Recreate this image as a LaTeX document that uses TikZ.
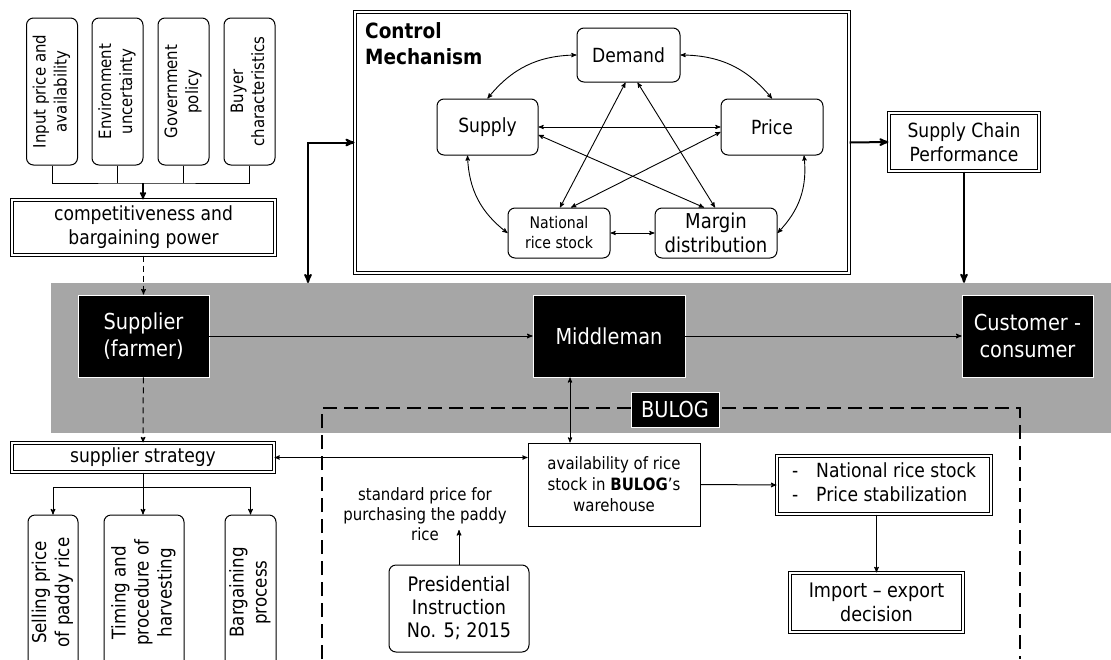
\documentclass[tikz,border=0pt]{standalone}
\usepackage{fontspec}
\setmainfont{DejaVu Sans}[FakeStretch=0.88]
\usepackage{graphicx}
\usepackage{tikz}
\usetikzlibrary{arrows}
\definecolor{bandgray}{RGB}{166,166,166}
\newcommand{\fsz}[2]{\fontsize{#1}{#2}\selectfont}
\newcommand{\vlabel}[1]{\rotatebox{90}{\begin{tabular}{@{}c@{}}#1\end{tabular}}}
\tikzset
{
    softbox/.style  = {rectangle, rounded corners=7pt, draw=black, line width=1pt, align=center, inner sep=2pt},
    plainbox/.style = {rectangle, draw=black, line width=1pt, align=center, inner sep=2pt},
    dblbox/.style   = {rectangle, draw=black, double=white, double distance=1.3pt, line width=1.1pt, align=center, inner sep=2pt},
    blackbox/.style = {rectangle, fill=black, draw=white, line width=0.9pt, text=white, align=center, font=\fsz{22}{27}},
    link/.style     = {->, line width=1pt},
    both/.style     = {<->, line width=0.9pt},
    heavy/.style    = {line width=2pt}
}

\begin{document}
\begin{tikzpicture}[x=1pt, y=-1pt, >=stealth', font=\fsz{19.5}{24}]
    \useasboundingbox (0,0) rectangle (1111,659);
    \clip (0,0) rectangle (1111,659);

    \node [fill=bandgray, minimum width=1060pt, minimum height=150pt, inner sep=0pt] (band) at (581,358) {};

    \node [softbox, minimum width=51pt, minimum height=147pt, font=\fsz{17}{21}] (inprice) at (52,91.5) {\vlabel{Input price and\\availability}};
    \node [softbox, minimum width=51pt, minimum height=147pt, font=\fsz{17}{21}] (envunc) at (117.5,91.5) {\vlabel{Environment\\uncertainty}};
    \node [softbox, minimum width=51pt, minimum height=147pt, font=\fsz{17}{21}] (govpol) at (183.5,91.5) {\vlabel{Government\\policy}};
    \node [softbox, minimum width=51pt, minimum height=147pt, font=\fsz{17}{21}] (buyer) at (249.5,91.5) {\vlabel{Buyer\\characteristics}};
    \node [dblbox, minimum width=263pt, minimum height=55pt] (compet) at (143.5,227.5) {competitiveness and\\bargaining power};

    \coordinate (merge) at (143,183);
    \draw [line width=1pt] (inprice.south) |- (merge) -| (buyer.south);
    \draw [line width=1pt] (envunc.south) -- (envunc.south |- merge);
    \draw [line width=1pt] (govpol.south) -- (govpol.south |- merge);
    \draw [link, line width=1.5pt] (merge) -- (merge |- compet.north);

    \node [blackbox, minimum width=131pt, minimum height=82pt] (farmer) at (143.5,336) {Supplier\\(farmer)};
    \node [blackbox, minimum width=152pt, minimum height=82pt] (middle) at (609,336) {Middleman};
    \node [blackbox, minimum width=131pt, minimum height=82pt] (customer) at (1027.5,336) {Customer -\\consumer};
    \draw [link] (farmer) -- (middle);
    \draw [link] (middle) -- (customer);
    \draw [link, dash pattern=on 6pt off 4pt] (compet) -- (farmer);

    \node [draw=black, double=white, double distance=1.5pt, line width=1pt, minimum width=494pt, minimum height=261pt] (control) at (602,142.5) {};
    \node [anchor=north west, align=left, inner sep=0pt, font=\bfseries\fsz{21}{26}] (ctitle) at (365,22) {Control\\Mechanism};
    \node [softbox, minimum width=103pt, minimum height=54pt] (demand) at (628.5,55) {Demand};
    \node [softbox, minimum width=101pt, minimum height=56pt] (supply) at (487.5,127) {Supply};
    \node [softbox, minimum width=102pt, minimum height=56pt] (price) at (772,127) {Price};
    \node [softbox, minimum width=102pt, minimum height=50pt, font=\fsz{16}{20}] (stock) at (559,233) {National\\rice stock};
    \node [softbox, minimum width=122pt, minimum height=50pt, font=\fsz{20.5}{24}] (margin) at (716,233) {Margin\\distribution};

    \draw [both] (supply.north) to[bend left=25] (demand.west);
    \draw [both] (demand.east) to[bend left=25] (price.north);
    \draw [both] (supply.east) -- (price.west);
    \draw [both] ([xshift=-20pt]supply.south) to[bend right=25] (stock.west);
    \draw [both] ([xshift=32pt]price.south) to[bend left=25] (margin.east);
    \draw [both] (stock.east) -- (margin.west);
    \draw [both] ([xshift=-3pt]demand.south) -- ([xshift=1pt]stock.north);
    \draw [both] ([xshift=9pt]demand.south) -- ([xshift=-1pt]margin.north);
    \draw [both] ([yshift=-8pt]supply.east) -- ([xshift=-12pt]margin.north);
    \draw [both] ([yshift=-5pt]price.west) -- ([xshift=12pt]stock.north);

    \node [dblbox, minimum width=150pt, minimum height=58pt] (scp) at (964,142) {Supply Chain\\Performance};
    \coordinate (ctrlfoot) at (308,283);
    \draw [<->, heavy] (ctrlfoot) |- (control.west);
    \draw [->, heavy] (control.east) -- (scp.west);
    \draw [->, heavy] (scp.south) -- (scp.south |- band.north);

    \draw [line width=2.2pt, dash pattern=on 14pt off 7pt] (322,659) -- (322,408) -- (1020,408) -- (1020,659);
    \node [blackbox, minimum width=88pt, minimum height=35pt, inner sep=0pt] (bulog) at (675,409.5) {BULOG};

    \node [plainbox, minimum width=172pt, minimum height=83pt, font=\fsz{17}{21}] (avail) at (614,484.5) {availability of rice\\stock in \textbf{BULOG}’s\\warehouse};
    \coordinate (midfoot) at ([xshift=-39pt]middle.south);
    \draw [both] (midfoot) -- (midfoot |- avail.north);

    \node [dblbox, minimum width=262pt, minimum height=29pt] (strategy) at (143,457.5) {supplier strategy};
    \draw [link, dash pattern=on 6pt off 4pt] (farmer) -- (strategy);
    \draw [both] (strategy.east) -- (strategy.east -| avail.west);

    \node [softbox, minimum width=48pt, minimum height=155pt, font=\fsz{19}{23}] (sellprice) at (53,592.5) {\vlabel{Selling price\\of paddy rice}};
    \node [softbox, minimum width=80pt, minimum height=155pt, font=\fsz{19}{23}] (harvest) at (144,592.5) {\vlabel{Timing and\\procedure of\\harvesting}};
    \node [softbox, minimum width=51pt, minimum height=155pt, font=\fsz{19}{23}] (bargain) at (250.5,592.5) {\vlabel{Bargaining\\process}};
    \coordinate (fork) at (143,487);
    \draw [link] (strategy.south) -- (strategy.south |- harvest.north);
    \draw [link] (fork) -| (sellprice.north);
    \draw [link] (fork) -| (bargain.north);

    \node [align=center, font=\fsz{17}{20}] (stdprice) at (425,514) {standard price for\\purchasing the paddy\\rice};
    \node [softbox, minimum width=140pt, minimum height=87pt, font=\fsz{20}{23}] (presinst) at (459,608.5) {Presidential\\Instruction\\No. 5; 2015};
    \coordinate (stdtip) at (459,530);
    \draw [link] (presinst.north) -- (stdtip);

    \node [dblbox, minimum width=214pt, minimum height=58pt] (natstock) at (884,485) {\begin{tabular}{@{}l@{\hspace{18pt}}l@{}}-&National rice stock\\-&Price stabilization\end{tabular}};
    \node [dblbox, minimum width=173pt, minimum height=59pt, font=\fsz{20}{24}] (impexp) at (876.5,602.5) {Import – export\\decision};
    \draw [link] (avail.east) -- (natstock.west);
    \draw [link] (natstock.south -| impexp.north) -- (impexp.north);
\end{tikzpicture}
\end{document}
